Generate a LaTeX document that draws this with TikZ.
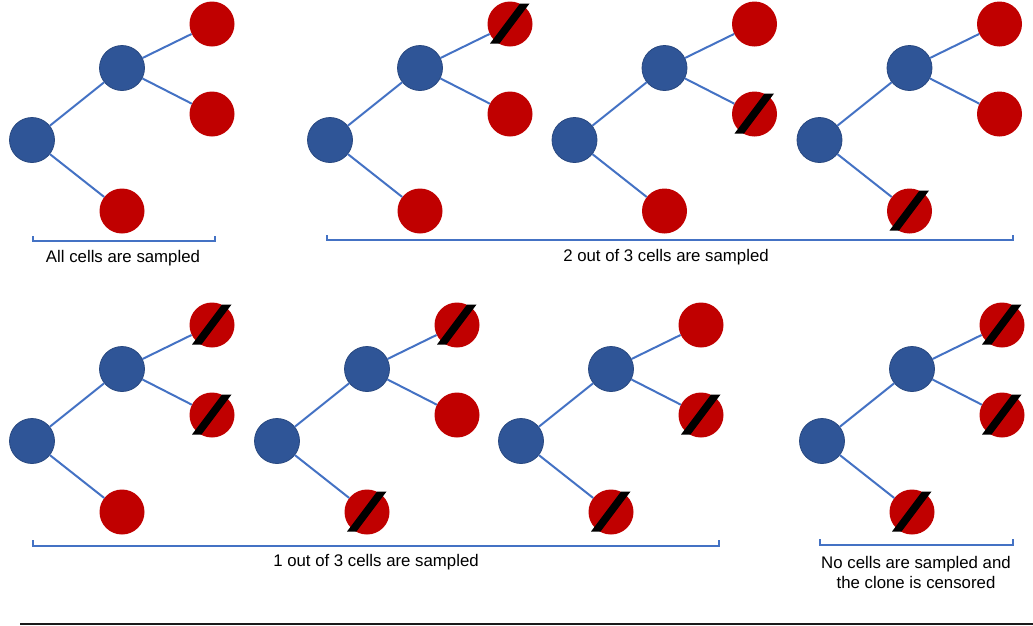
\documentclass[tikz,border=0pt]{standalone}
\usepackage{fontspec}
\setmainfont{Liberation Sans}
\definecolor{cellblue}{HTML}{2F5597}
\definecolor{cellred}{HTML}{C00000}
\definecolor{branch}{HTML}{4472C4}
\definecolor{rule}{HTML}{1A1A1A}

\tikzset{
  anc/.style={circle, fill=cellblue, draw=cellblue!85!black, line width=0.8pt,
              minimum size=45pt, inner sep=0pt},
  leaf/.style={circle, fill=cellred, minimum size=45pt, inner sep=0pt},
  edge/.style={draw=branch, line width=2pt},
  bracket/.style={draw=branch, line width=2pt},
  caption/.style={font=\fontsize{16.8}{20}\selectfont, align=center, inner sep=0pt},
}

% black bar struck through a leaf that was not sampled
\newcommand\cutcell[1]{%
  \fill[black] ([shift={(-20,19.5)}]#1.center) -- ([shift={(-10.5,19.5)}]#1.center)
    -- ([shift={(19.5,-20.5)}]#1.center) -- ([shift={(10,-20.5)}]#1.center) -- cycle;}

% one clone tree: name, root x, root y, struck flags (top, middle, bottom leaf)
\newcommand\clonetree[6]{%
  \node[anc] (#1r) at (#2,#3) {};
  \node[anc] (#1m) at ([shift={(90,-72)}]#1r) {};
  \node[leaf] (#1a) at ([shift={(180,-116)}]#1r) {};
  \node[leaf] (#1b) at ([shift={(180,-26)}]#1r) {};
  \node[leaf] (#1c) at ([shift={(90,71)}]#1r) {};
  \draw[edge] (#1r) -- (#1m);
  \draw[edge] (#1m) -- (#1a);
  \draw[edge] (#1m) -- (#1b);
  \draw[edge] (#1r) -- (#1c);
  \ifnum#4=1 \cutcell{#1a}\fi
  \ifnum#5=1 \cutcell{#1b}\fi
  \ifnum#6=1 \cutcell{#1c}\fi
}

\begin{document}
\begin{tikzpicture}[x=1pt, y=-1pt]
\useasboundingbox (0,0) rectangle (1033,625);

% top row
\clonetree{A}{32}{140}{0}{0}{0}
\clonetree{B}{330}{140}{1}{0}{0}
\clonetree{C}{574.5}{140}{0}{1}{0}
\clonetree{D}{819.5}{140}{0}{0}{1}

% bottom row
\clonetree{E}{32}{441}{1}{1}{0}
\clonetree{F}{277}{441}{1}{0}{1}
\clonetree{G}{521}{441}{0}{1}{1}
\clonetree{H}{822}{441}{1}{1}{1}

% group brackets
\draw[bracket] (33,236) -- (33,241) -- (215,241) -- (215,236);
\draw[bracket] (327,235) -- (327,240) -- (1013,240) -- (1013,235);
\draw[bracket] (33,540) -- (33,545.5) -- (719,545.5) -- (719,540);
\draw[bracket] (820,539) -- (820,544.5) -- (1013,544.5) -- (1013,539);

% group captions
\node[caption] (capA) at (123,258) {All cells are sampled};
\node[caption] (capB) at (666,257) {2 out of 3 cells are sampled};
\node[caption] (capC) at (376,562) {1 out of 3 cells are sampled};
\node[caption] (capD) at (916,572) {No cells are sampled and\\the clone is censored};

% closing rule
\draw[rule, line width=2pt] (20,623.5) -- (1033,623.5);
\end{tikzpicture}
\end{document}
